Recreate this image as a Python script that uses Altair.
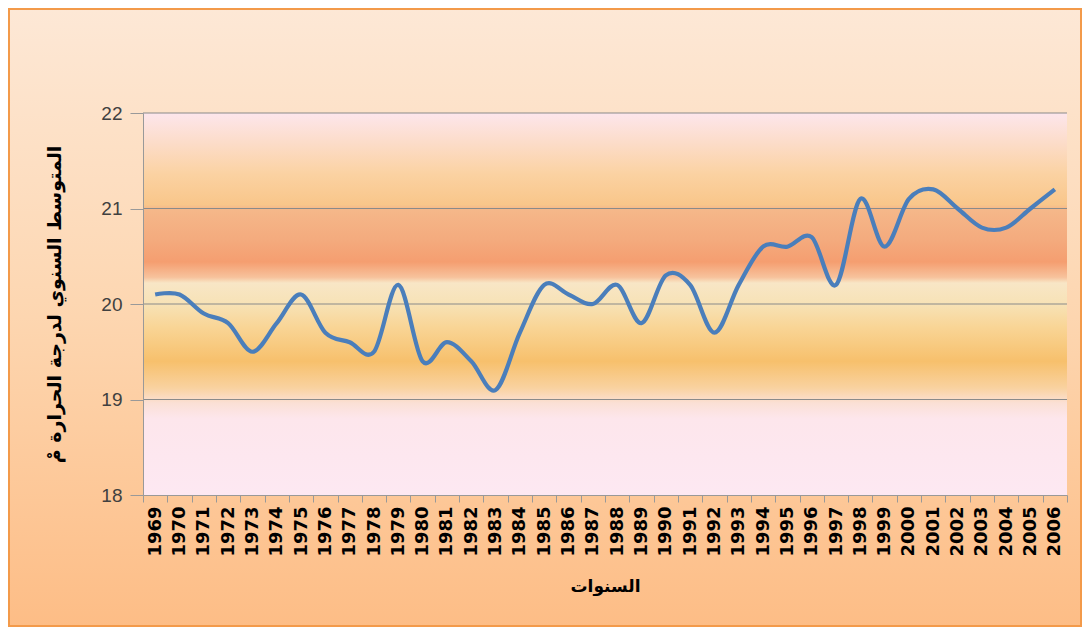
import altair as alt
import pandas as pd

years = [str(y) for y in range(1969, 2007)]
temps = [20.1, 20.1, 19.9, 19.8, 19.5, 19.8, 20.1, 19.7, 19.6, 19.5,
         20.2, 19.4, 19.6, 19.4, 19.1, 19.7, 20.2, 20.1, 20.0, 20.2,
         19.8, 20.3, 20.2, 19.7, 20.2, 20.6, 20.6, 20.7, 20.2, 21.1,
         20.6, 21.1, 21.2, 21.0, 20.8, 20.8, 21.0, 21.2]
y_ticks = [18, 19, 20, 21, 22]

df = pd.DataFrame({"year": years, "temp": temps})
grid_df = pd.DataFrame({"temp": y_ticks[1:]})

W, H = 924, 382
PL, PT, PR, PB = 135, 105, 15, 132

one = alt.Data(values=[{"k": 1}])

outer_bg = alt.Chart(one).mark_rect(
    fill=alt.Gradient(
        gradient="linear", x1=0, y1=0, x2=0, y2=1,
        stops=[alt.GradientStop(offset=0, color="#fde8d6"),
               alt.GradientStop(offset=0.5, color="#fdd6b0"),
               alt.GradientStop(offset=1, color="#fdbd86")]),
    stroke="#f39a4a", strokeWidth=2,
).encode(
    x=alt.value(-PL + 1), x2=alt.value(W + PR - 1),
    y=alt.value(-PT + 1), y2=alt.value(H + PB - 1),
)

plot_bg = alt.Chart(one).mark_rect(
    fill=alt.Gradient(
        gradient="linear", x1=0, y1=0, x2=0, y2=1,
        stops=[alt.GradientStop(offset=0.00, color="#fde6ec"),
               alt.GradientStop(offset=0.08, color="#fcdcc8"),
               alt.GradientStop(offset=0.16, color="#fbd2a2"),
               alt.GradientStop(offset=0.24, color="#f9c68a"),
               alt.GradientStop(offset=0.25, color="#f5b88a"),
               alt.GradientStop(offset=0.33, color="#f4ab7e"),
               alt.GradientStop(offset=0.39, color="#f59e70"),
               alt.GradientStop(offset=0.43, color="#f7c29c"),
               alt.GradientStop(offset=0.445, color="#f8e6c6"),
               alt.GradientStop(offset=0.50, color="#f7e2b6"),
               alt.GradientStop(offset=0.56, color="#f9d596"),
               alt.GradientStop(offset=0.65, color="#f7c06c"),
               alt.GradientStop(offset=0.72, color="#f9d2a0"),
               alt.GradientStop(offset=0.76, color="#fbe0d6"),
               alt.GradientStop(offset=0.80, color="#fde6ec"),
               alt.GradientStop(offset=1.00, color="#fde8f2")]),
).encode(
    x=alt.value(0), x2=alt.value(W),
    y=alt.value(0), y2=alt.value(H),
)

yscale = alt.Scale(domain=[18, 22], nice=False, zero=False)

grid = alt.Chart(grid_df).mark_rule(color="#8a8a8a", strokeWidth=1.2).encode(
    y=alt.Y("temp:Q", scale=yscale),
    x=alt.value(0), x2=alt.value(W),
)

line = alt.Chart(df).mark_line(
    color="#4a7ebb", strokeWidth=4.2, interpolate="cardinal"
).encode(
    x=alt.X("year:N", sort=years,
            scale=alt.Scale(paddingInner=0, paddingOuter=0),
            axis=alt.Axis(title="السنوات", labelAngle=270, labelAlign="right",
                          labelBaseline="middle", labelFont="DejaVu Sans",
                          labelFontSize=18, labelFontWeight="bold",
                          labelColor="#000000", labelPadding=4,
                          tickBand="extent", tickColor="#999999", tickSize=7,
                          domainColor="#999999", grid=False, zindex=1,
                          titleFont="DejaVu Sans", titleFontSize=17,
                          titleFontWeight="bold", titleColor="#000000",
                          titlePadding=22)),
    y=alt.Y("temp:Q", scale=yscale,
            axis=alt.Axis(title="المتوسط السنوي لدرجة الحرارة مْ",
                          values=y_ticks, format="d",
                          labelFont="Liberation Sans", labelFontSize=19,
                          labelColor="#404040", labelPadding=8,
                          tickColor="#999999", tickSize=13,
                          domainColor="#999999", grid=False, zindex=1,
                          titleFont="DejaVu Sans", titleFontSize=19,
                          titleFontWeight="bold", titleColor="#000000",
                          titlePadding=36)),
)

chart = alt.layer(outer_bg, plot_bg, grid, line).properties(
    width=W, height=H,
    autosize=alt.AutoSizeParams(type="none"),
    padding={"left": PL, "top": PT, "right": PR, "bottom": PB},
).configure_view(stroke=None).configure(background="white")

chart.save("out.html", embed_options={"renderer": "svg", "actions": False})
